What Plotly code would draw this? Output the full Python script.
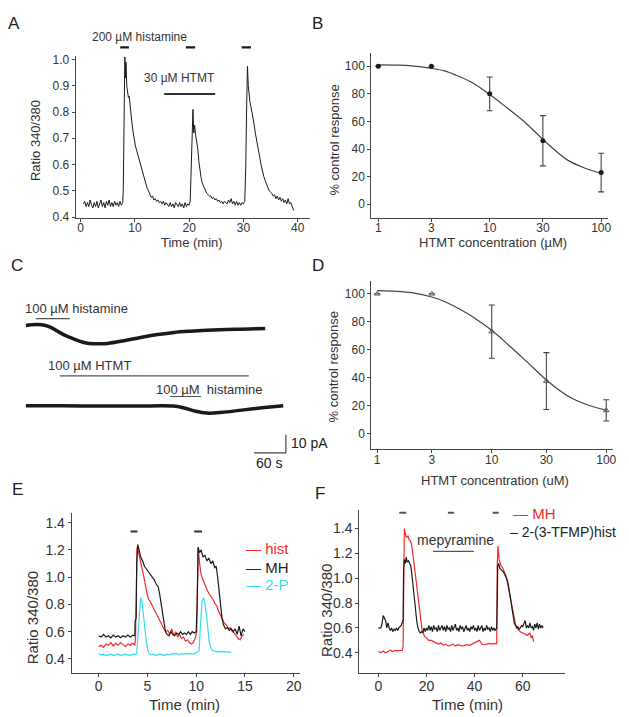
import plotly.graph_objects as go

W, H = 629, 717
FONT = "Liberation Sans, Arial, sans-serif"
TXT = "#333333"
AXC = "#444444"
RED = "#f02a2a"
CYAN = "#35dcef"
BLK = "#1a1a1a"

# ---------------- DATA ----------------
# Panel A: single cell Ca2+ ratio trace (time min, ratio)
A_trace = [(0.5,0.45),(0.75,0.46),(1.0,0.44),(1.25,0.455),(1.5,0.44),(1.75,0.465),(2.0,0.445),(2.25,0.435),(2.5,0.455),(2.75,0.44),(3.0,0.46),(3.25,0.435),(3.5,0.45),(3.75,0.465),(4.0,0.44),(4.25,0.455),(4.5,0.435),(4.75,0.46),(5.0,0.445),(5.25,0.465),(5.5,0.44),(5.75,0.455),(6.0,0.44),(6.25,0.46),(6.5,0.445),(6.75,0.455),(7.0,0.44),(7.25,0.46),(7.5,0.445),(7.75,0.455),
           (7.85,0.5),(7.95,0.78),(8.05,0.95),(8.15,1.01),(8.25,0.93),(8.35,0.99),(8.5,0.9),(8.65,0.88),(8.8,0.855),(8.95,0.86),(9.1,0.82),(9.3,0.78),(9.5,0.75),(9.7,0.72),(9.9,0.69),(10.1,0.67),(10.3,0.655),(10.5,0.64),(10.7,0.625),(10.9,0.61),(11.1,0.59),(11.3,0.575),(11.5,0.56),(11.75,0.545),(12.0,0.52),(12.25,0.51),(12.5,0.5),(12.75,0.49),(13.0,0.475),(13.25,0.48),(13.5,0.465),(13.75,0.47),(14.0,0.46),(14.25,0.465),(14.5,0.455),(14.75,0.46),(15.0,0.45),(15.25,0.46),(15.5,0.445),(15.75,0.455),(16.0,0.445),(16.25,0.44),(16.5,0.455),(16.75,0.44),(17.0,0.45),(17.25,0.435),(17.5,0.455),(17.75,0.445),(18.0,0.44),(18.25,0.455),(18.5,0.44),(18.75,0.45),(19.0,0.435),(19.25,0.455),(19.5,0.44),(19.75,0.45),(20.0,0.445),(20.2,0.46),
           (20.4,0.62),(20.55,0.75),(20.7,0.81),(20.85,0.72),(21.0,0.75),(21.2,0.71),(21.4,0.69),(21.6,0.66),(21.8,0.61),(22.0,0.575),(22.2,0.55),(22.4,0.53),(22.6,0.52),(22.8,0.51),(23.0,0.5),(23.25,0.49),(23.5,0.485),(23.75,0.48),(24.0,0.48),(24.25,0.47),(24.5,0.475),(24.75,0.465),(25.0,0.47),(25.25,0.46),(25.5,0.465),(25.75,0.455),(26.0,0.46),(26.25,0.45),(26.5,0.46),(26.75,0.455),(27.0,0.45),(27.25,0.465),(27.5,0.455),(27.75,0.47),(28.0,0.45),(28.25,0.46),(28.5,0.445),(28.75,0.46),(29.0,0.445),(29.25,0.455),(29.5,0.445),(29.75,0.455),(30.0,0.45),(30.25,0.46),
           (30.45,0.6),(30.6,0.82),(30.75,0.975),(30.9,0.9),(31.05,0.86),(31.2,0.84),(31.4,0.82),(31.6,0.8),(31.8,0.78),(32.0,0.75),(32.2,0.72),(32.4,0.7),(32.6,0.68),(32.8,0.655),(33.0,0.63),(33.25,0.6),(33.5,0.575),(33.75,0.555),(34.0,0.54),(34.25,0.525),(34.5,0.51),(34.75,0.5),(35.0,0.495),(35.25,0.49),(35.5,0.48),(35.75,0.485),(36.0,0.47),(36.25,0.48),(36.5,0.465),(36.75,0.475),(37.0,0.46),(37.25,0.47),(37.5,0.455),(37.75,0.465),(38.0,0.45),(38.25,0.47),(38.5,0.45),(38.75,0.455),(39.0,0.44),(39.3,0.425)]
A_hist_on = [7.3, 19.4, 29.7]
A_hist_off = [8.9, 21.1, 31.4]
A_hist_level = 1.045
A_htmt_on, A_htmt_off, A_htmt_level = 15.4, 24.8, 0.869

# Panel B: concentration-response (HTMT uM, % control)
B_conc = [1, 3, 10, 30, 100]
B_resp = [100, 100, 80, 46, 23]
B_err = [0, 0, 12.2, 18.2, 14]
B_fit_x = [1, 1.5, 2, 3, 4, 5, 7, 10, 14, 20, 30, 40, 50, 70, 100]
B_fit_y = [101, 100.8, 100.3, 98.5, 96.5, 93.5, 88, 79.5, 70.5, 60.5, 47, 38, 32, 26.5, 22.5]

# Panel C: whole-cell currents (time s, current pA)
C_trace1 = [(0,0),(10,0.4),(22,0.6),(35,0.2),(47,-1.0),(60,-3.2),(75,-5.6),(91,-7.5),(104,-8.9),(116,-9.8),(135,-10.1),(154,-9.9),(185,-8.4),(216,-6.6),(248,-5.0),(279,-3.8),(310,-3.1),(341,-2.6),(395,-2.0),(451,-1.6)]
C_trace2 = [(0,-44.4),(70,-44.5),(140,-44.6),(210,-44.6),(282,-44.7),(300,-45.8),(320,-47.5),(341,-48.5),(370,-48.1),(403,-47.0),(445,-45.6),(485,-44.4)]
C_hist1 = (18.8, 82.6, 3.8)
C_htmt = (63.8, 420, -27.9)
C_hist2 = (272, 330, -39.3)
C_scale_s, C_scale_pA = 60, 10
C_scale_corner = (490, -70.5)

# Panel D: concentration-response, second data set
D_conc = [1, 3, 10, 30, 100]
D_resp = [100, 100, 73, 37.7, 16.8]
D_err = [0, 0, 19, 20.3, 7.6]
D_fit_x = [1, 1.5, 2, 3, 4, 5, 7, 10, 14, 20, 30, 40, 50, 70, 100]
D_fit_y = [102.3, 101.8, 100.8, 97.7, 94, 90, 83, 74, 63.5, 52, 38.5, 30.5, 25.5, 20.5, 17]

# Panel E: ratio traces (time min, ratio)
E_hist = [(0,0.49),(0.25,0.5),(0.5,0.485),(0.75,0.51),(1.0,0.5),(1.25,0.52),(1.5,0.495),(1.75,0.515),(2.0,0.5),(2.25,0.52),(2.5,0.505),(2.75,0.49),(3.0,0.51),(3.25,0.5),(3.5,0.515),(3.7,0.5),(3.78,0.55),(3.85,1.0),(3.95,1.22),(4.1,1.18),(4.3,1.12),(4.5,1.06),(4.7,0.98),(4.9,0.9),(5.1,0.84),(5.3,0.82),(5.5,0.79),(5.7,0.77),(5.9,0.73),(6.1,0.7),(6.3,0.67),(6.5,0.64),(6.7,0.62),(6.9,0.6),(7.1,0.61),(7.3,0.58),(7.5,0.62),(7.7,0.57),(7.9,0.6),(8.1,0.56),(8.3,0.58),(8.5,0.55),(8.7,0.56),(8.9,0.53),(9.1,0.54),(9.3,0.52),(9.5,0.51),(9.7,0.52),(9.9,0.55),(10.05,0.6),(10.12,1.0),(10.2,1.22),(10.35,1.1),(10.5,1.02),(10.7,0.98),(10.9,0.94),(11.1,0.91),(11.3,0.88),(11.5,0.86),(11.7,0.84),(11.9,0.81),(12.1,0.79),(12.3,0.75),(12.5,0.72),(12.7,0.69),(12.9,0.66),(13.1,0.65),(13.3,0.62),(13.5,0.63),(13.7,0.6),(13.9,0.59),(14.1,0.57),(14.3,0.55),(14.5,0.54),(14.7,0.57),(14.9,0.58)]
E_MH = [(0,0.57),(0.25,0.56),(0.5,0.58),(0.75,0.56),(1.0,0.57),(1.25,0.555),(1.5,0.575),(1.75,0.56),(2.0,0.57),(2.25,0.555),(2.5,0.57),(2.75,0.56),(3.0,0.575),(3.25,0.56),(3.5,0.575),(3.7,0.57),(3.75,0.68),(3.85,0.7),(3.9,1.1),(4.0,1.24),(4.15,1.2),(4.3,1.15),(4.5,1.12),(4.7,1.08),(4.9,1.06),(5.1,1.04),(5.3,1.02),(5.5,1.0),(5.7,0.98),(5.9,0.95),(6.1,0.93),(6.25,0.88),(6.4,0.8),(6.55,0.72),(6.7,0.65),(6.85,0.6),(7.0,0.58),(7.2,0.57),(7.4,0.6),(7.6,0.58),(7.8,0.57),(8.0,0.59),(8.2,0.58),(8.4,0.6),(8.6,0.58),(8.8,0.59),(9.0,0.58),(9.2,0.6),(9.4,0.58),(9.6,0.6),(9.8,0.59),(10.0,0.6),(10.1,0.8),(10.2,1.22),(10.35,1.18),(10.5,1.2),(10.7,1.15),(10.9,1.16),(11.1,1.12),(11.3,1.14),(11.5,1.1),(11.7,1.12),(11.9,1.07),(12.05,1.08),(12.2,1.0),(12.35,0.88),(12.5,0.78),(12.65,0.7),(12.8,0.65),(13.0,0.62),(13.2,0.63),(13.4,0.61),(13.6,0.62),(13.8,0.6),(14.0,0.62),(14.2,0.58),(14.4,0.64),(14.6,0.57),(14.8,0.62),(15.0,0.6)]
E_2P = [(0,0.44),(0.25,0.43),(0.5,0.435),(0.75,0.425),(1.0,0.43),(1.25,0.435),(1.5,0.425),(1.75,0.43),(2.0,0.435),(2.25,0.425),(2.5,0.43),(2.75,0.435),(3.0,0.43),(3.25,0.425),(3.5,0.435),(3.75,0.43),(3.9,0.44),(4.0,0.55),(4.1,0.7),(4.2,0.8),(4.3,0.85),(4.45,0.82),(4.6,0.74),(4.75,0.62),(4.9,0.52),(5.05,0.46),(5.2,0.44),(5.4,0.43),(5.6,0.435),(5.8,0.425),(6.0,0.43),(6.25,0.435),(6.5,0.43),(6.75,0.425),(7.0,0.435),(7.25,0.43),(7.5,0.44),(7.75,0.435),(8.0,0.44),(8.25,0.43),(8.5,0.44),(8.75,0.435),(9.0,0.44),(9.25,0.435),(9.5,0.44),(9.75,0.435),(10.0,0.445),(10.3,0.46),(10.4,0.6),(10.5,0.75),(10.6,0.82),(10.75,0.85),(10.9,0.8),(11.05,0.72),(11.2,0.6),(11.35,0.52),(11.5,0.48),(11.7,0.46),(11.9,0.46),(12.1,0.45),(12.3,0.455),(12.5,0.45),(12.7,0.455),(12.9,0.45),(13.1,0.455),(13.3,0.45),(13.6,0.45)]
E_bar_on = [3.27, 9.8]
E_bar_off = [3.98, 10.6]
E_bar_level = 1.335

# Panel F: ratio traces (time min, ratio)
F_MH = [(0,0.41),(1,0.4),(2,0.415),(3,0.4),(4,0.41),(5,0.42),(6,0.41),(7,0.42),(8,0.415),(9,0.42),(10,0.42),(10.3,0.45),(10.5,1.0),(10.8,1.4),(11.2,1.36),(11.7,1.33),(12.3,1.34),(12.8,1.31),(13.3,1.3),(13.7,1.28),(14.2,1.22),(14.7,1.14),(15.2,1.05),(15.7,0.96),(16.2,0.87),(16.7,0.78),(17.2,0.7),(17.7,0.63),(18.2,0.58),(18.7,0.555),(19.3,0.53),(20,0.52),(21,0.5),(22,0.5),(23,0.49),(24,0.48),(25,0.47),(26,0.48),(27,0.46),(28,0.47),(29,0.455),(30,0.46),(31,0.47),(32,0.455),(33,0.465),(34,0.46),(35,0.455),(36,0.46),(37,0.465),(38,0.46),(39,0.47),(40,0.475),(41,0.49),(42,0.5),(43,0.47),(44,0.465),(45,0.47),(46,0.475),(47,0.47),(48,0.475),(49,0.47),(49.2,0.48),(49.4,1.1),(49.7,1.26),(50.2,1.15),(51,1.1),(51.5,1.09),(52,1.07),(52.5,1.05),(53,1.02),(53.5,0.98),(54,0.93),(54.5,0.87),(55,0.82),(55.5,0.77),(56,0.72),(56.5,0.67),(57,0.63),(57.5,0.61),(58,0.59),(59,0.57),(60,0.56),(61,0.55),(62,0.54),(63,0.56),(63.5,0.52),(64,0.54),(64.5,0.49)]
F_TFMP = [(0,0.6),(1,0.6),(1.5,0.63),(2,0.7),(2.5,0.68),(3,0.66),(3.5,0.6),(4,0.64),(4.5,0.6),(5,0.58),(5.5,0.6),(6,0.57),(6.5,0.59),(7,0.58),(7.5,0.6),(8,0.58),(8.5,0.6),(9,0.61),(9.5,0.62),(10,0.65),(10.3,0.66),(10.5,1.08),(10.8,1.15),(11.2,1.12),(11.6,1.17),(12,1.13),(12.5,1.14),(13,1.12),(13.5,1.1),(14,1.02),(14.5,0.92),(15,0.82),(15.5,0.72),(16,0.65),(16.5,0.6),(17,0.57),(17.5,0.56),(18,0.57),(18.5,0.56),(19,0.6),(19.5,0.57),(20,0.6),(20.5,0.58),(21,0.62),(21.5,0.58),(22,0.61),(22.5,0.57),(23,0.62),(23.5,0.59),(24,0.6),(24.5,0.57),(25,0.62),(25.5,0.58),(26,0.6),(26.5,0.62),(27,0.58),(27.5,0.61),(28,0.57),(28.5,0.62),(29,0.59),(29.5,0.6),(30,0.57),(30.5,0.62),(31,0.58),(31.5,0.6),(32,0.63),(32.5,0.58),(33,0.6),(33.5,0.57),(34,0.62),(34.5,0.59),(35,0.61),(35.5,0.57),(36,0.6),(36.5,0.62),(37,0.58),(37.5,0.6),(38,0.57),(38.5,0.61),(39,0.59),(39.5,0.62),(40,0.58),(40.5,0.6),(41,0.57),(41.5,0.62),(42,0.58),(42.5,0.6),(43,0.62),(43.5,0.57),(44,0.6),(44.5,0.58),(45,0.62),(45.5,0.59),(46,0.6),(46.5,0.57),(47,0.61),(47.5,0.58),(48,0.6),(48.5,0.58),(49,0.6),(49.2,0.6),(49.4,0.8),(49.6,1.1),(50,1.12),(50.5,1.08),(51,1.07),(51.5,1.06),(52,1.05),(52.5,1.03),(53,1.01),(53.5,0.99),(54,0.95),(54.5,0.88),(55,0.82),(55.5,0.75),(56,0.68),(56.5,0.64),(57,0.62),(57.5,0.6),(58,0.61),(58.5,0.59),(59,0.6),(59.5,0.62),(60,0.61),(60.5,0.63),(61,0.66),(61.5,0.6),(62,0.62),(62.5,0.6),(63,0.64),(63.5,0.6),(64,0.61),(64.5,0.58),(65,0.63),(65.5,0.6),(66,0.64),(66.5,0.59),(67,0.63),(67.5,0.6),(68,0.62),(68.5,0.6)]
F_bar_on = [8.7, 28.9, 47.5]
F_bar_off = [11.6, 31.4, 50.0]
F_bar_level = 1.527
F_mep = (22.7, 39.7, 1.217)

# ---------------- helpers ----------------
def unzip(pairs):
    return [p[0] for p in pairs], [p[1] for p in pairs]

def segs(on, off, level):
    xs, ys = [], []
    for a, b in zip(on, off):
        xs += [a, b, None]
        ys += [level, level, None]
    return xs, ys

def px(x, y):
    return x / W, 1 - y / H

fig = go.Figure()

def line(x, y, xa, ya, color=BLK, width=1.0, shape="linear"):
    fig.add_trace(go.Scatter(x=x, y=y, xaxis=xa, yaxis=ya, mode="lines",
                             line=dict(color=color, width=width, shape=shape),
                             showlegend=False, hoverinfo="skip"))

# A
t, v = unzip(A_trace)
line(t, v, "x", "y", BLK, 1.0)
line([A_htmt_on, A_htmt_off], [A_htmt_level] * 2, "x", "y", "#333", 2.0)
bx, by = segs(A_hist_on, A_hist_off, A_hist_level)
line(bx, by, "x", "y7", BLK, 2.2)

# B
line(B_fit_x, B_fit_y, "x2", "y2", "#444", 1.2, "spline")
fig.add_trace(go.Scatter(x=B_conc, y=B_resp, xaxis="x2", yaxis="y2", mode="markers",
                         marker=dict(color=BLK, size=5),
                         error_y=dict(type="data", array=B_err, color="#444", thickness=1.1, width=3),
                         showlegend=False, hoverinfo="skip"))

# C
t, v = unzip(C_trace1)
line(t, v, "x3", "y3", BLK, 3.5, "spline")
t, v = unzip(C_trace2)
line(t, v, "x3", "y3", BLK, 3.5, "spline")
for a, b, lev in (C_hist1, C_htmt, C_hist2):
    line([a, b], [lev, lev], "x3", "y3", "#555", 1.2)
cx, cy = C_scale_corner
line([cx - C_scale_s, cx, cx], [cy, cy, cy + C_scale_pA], "x3", "y3", "#444", 1.2)

# D
line(D_fit_x, D_fit_y, "x4", "y4", "#444", 1.2, "spline")
fig.add_trace(go.Scatter(x=D_conc, y=D_resp, xaxis="x4", yaxis="y4", mode="markers",
                         marker=dict(color="#555", size=5, symbol="triangle-up-open"),
                         error_y=dict(type="data", array=D_err, color="#444", thickness=1.1, width=3),
                         showlegend=False, hoverinfo="skip"))

# E
t, v = unzip(E_2P)
line(t, v, "x5", "y5", CYAN, 1.2)
t, v = unzip(E_hist)
line(t, v, "x5", "y5", RED, 1.2)
t, v = unzip(E_MH)
line(t, v, "x5", "y5", BLK, 1.2)
bx, by = segs(E_bar_on, E_bar_off, E_bar_level)
line(bx, by, "x5", "y5", "#333", 2.0)

# F
t, v = unzip(F_MH)
line(t, v, "x6", "y6", RED, 1.2)
t, v = unzip(F_TFMP)
line(t, v, "x6", "y6", BLK, 1.2)
bx, by = segs(F_bar_on, F_bar_off, F_bar_level)
line(bx, by, "x6", "y6", "#555", 2.0)
line([F_mep[0], F_mep[1]], [F_mep[2]] * 2, "x6", "y6", "#555", 1.3)

# ---------------- axes ----------------
def ax(size=12, stand=0, **kw):
    d = dict(showline=True, linecolor=AXC, linewidth=1, ticks="outside", ticklen=3,
             tickcolor=AXC, tickwidth=1, showgrid=False, zeroline=False, mirror=False,
             ticklabelstandoff=stand,
             tickfont=dict(family=FONT, size=size, color=TXT), fixedrange=True)
    d.update(kw)
    return d

def dom_x(a, b):
    return [a / W, b / W]

def dom_y(top, bottom):
    return [1 - bottom / H, 1 - top / H]

fig.update_layout(
    xaxis=ax(stand=-4, domain=dom_x(68, 303), range=[-0.92, 42.2], tickvals=[0, 10, 20, 30, 40], anchor="y"),
    yaxis=ax(domain=dom_y(45, 209), range=[0.396, 1.012], tickvals=[0.4, 0.5, 0.6, 0.7, 0.8, 0.9, 1.0],
             tickformat=".1f", anchor="x"),
    yaxis7=dict(domain=dom_y(20, 209), range=[0.396, 1.1047], anchor="x", visible=False, fixedrange=True),
    xaxis2=ax(stand=-4, type="log", domain=dom_x(365, 603), range=[-0.0625, 2.0625], tickvals=B_conc,
              ticktext=[str(c) for c in B_conc], anchor="y2"),
    yaxis2=ax(domain=dom_y(42, 209), range=[-10, 109.3], tickvals=[0, 20, 40, 60, 80, 100], anchor="x2"),
    xaxis3=dict(domain=dom_x(10, 300), range=[-15, 529], visible=False, anchor="y3", fixedrange=True),
    yaxis3=dict(domain=dom_y(290, 460), range=[-77.6, 15.3], visible=False, anchor="x3", fixedrange=True),
    xaxis4=ax(stand=-3, type="log", domain=dom_x(365, 608), range=[-0.052, 2.06], tickvals=D_conc,
              ticktext=[str(c) for c in D_conc], anchor="y4"),
    yaxis4=ax(domain=dom_y(273, 443), range=[-10.6, 109], tickvals=[0, 20, 40, 60, 80, 100], anchor="x4"),
    xaxis5=ax(size=14, stand=-2, domain=dom_x(64, 293), range=[-2.76, 20.6], tickvals=[0, 5, 10, 15, 20], anchor="y5"),
    yaxis5=ax(size=14, domain=dom_y(508, 670), range=[0.299, 1.472], tickvals=[0.4, 0.6, 0.8, 1.0, 1.2, 1.4],
              tickformat=".1f", anchor="x5"),
    xaxis6=ax(size=14, stand=-2, domain=dom_x(353, 560), range=[-7.9, 77.7], tickvals=[0, 20, 40, 60], anchor="y6"),
    yaxis6=ax(size=14, domain=dom_y(505, 670), range=[0.24, 1.55], tickvals=[0.4, 0.6, 0.8, 1.0, 1.2, 1.4],
              tickformat=".1f", anchor="x6"),
)

# ---------------- text ----------------
anns = []
def T(text, x, y, size=13, color=TXT, xanchor="center", angle=0):
    xp, yp = px(x, y)
    anns.append(dict(text=text, x=xp, y=yp, xref="paper", yref="paper", showarrow=False,
                     xanchor=xanchor, yanchor="middle", textangle=angle,
                     font=dict(family=FONT, size=size, color=color)))

for lab, x, y in [("A", 6, 12), ("B", 311, 12), ("C", 9, 257), ("D", 311, 257), ("E", 10, 484), ("F", 313, 488)]:
    T(lab, x, y, 17, "#222")

T("200 µM histamine", 132, 25, 12)
T("30 µM HTMT", 172, 67, 12)
T("Ratio 340/380", 27, 130, 13, angle=-90)
T("Time (min)", 185, 234, 13)

T("% control response", 328, 130, 13, angle=-90)
T("HTMT concentration (µM)", 487, 234, 13)

T("100 µM histamine", 15, 301, 13, xanchor="left")
T("100 µM HTMT", 38, 359, 13, xanchor="left")
T("100 µM\u00a0\u00a0histamine", 147, 383, 13, xanchor="left")
T("10 pA", 282, 437, 14, "#222", xanchor="left")
T("60 s", 262, 457, 14, "#222")

T("% control response", 328, 360, 13, angle=-90)
T("HTMT concentration (uM)", 489, 475, 13)

T("Ratio 340/380", 25, 614, 15, angle=-90)
T("Time (min)", 177, 702, 15)
T("— hist", 237, 544, 15, RED, xanchor="left")
T("— MH", 237, 563, 15, "#222", xanchor="left")
T("— 2-P", 237, 581, 15, CYAN, xanchor="left")

T("mepyramine", 450, 535, 14)
T("Ratio 340/380", 320, 607, 15, angle=-90)
T("Time (min)", 462, 702, 15)
T("— MH", 505, 509, 15, RED, xanchor="left")
T("– 2-(3-TFMP)hist", 502, 527, 14, "#222", xanchor="left")

fig.update_layout(annotations=anns, width=W, height=H, margin=dict(l=0, r=0, t=0, b=0),
                  paper_bgcolor="white", plot_bgcolor="rgba(0,0,0,0)", showlegend=False,
                  font=dict(family=FONT, color=TXT))

fig.write_html("out.html")
